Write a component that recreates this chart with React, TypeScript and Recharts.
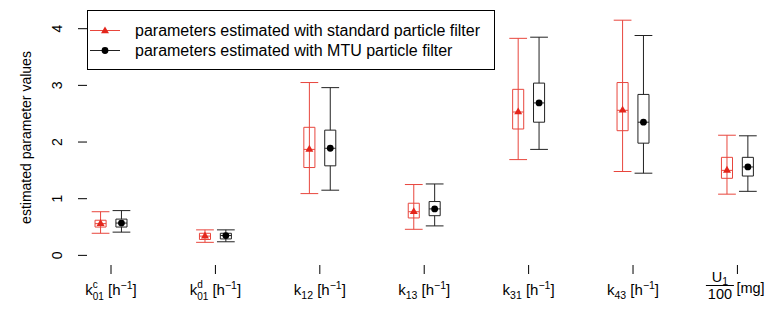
import React from 'react';
import {
  ComposedChart,
  Scatter,
  XAxis,
  YAxis,
  ReferenceArea,
  ReferenceLine,
  Legend,
} from 'recharts';

// ---- data ----
const categories = ['k01c', 'k01d', 'k12', 'k13', 'k31', 'k43', 'U1/100'];
const categoryPositions = [0, 1, 2, 3, 4, 5, 6];
const yTicks = [0, 1, 2, 3, 4];

// standard particle filter (red)
const stdLow = [0.39, 0.23, 1.09, 0.46, 1.69, 1.48, 1.08];
const stdQ1 = [0.5, 0.28, 1.55, 0.66, 2.23, 2.2, 1.36];
const stdMedian = [0.56, 0.34, 1.87, 0.77, 2.53, 2.56, 1.5];
const stdQ3 = [0.62, 0.39, 2.26, 0.92, 2.93, 3.05, 1.73];
const stdHigh = [0.77, 0.45, 3.05, 1.25, 3.83, 4.15, 2.12];

// MTU particle filter (black)
const mtuLow = [0.41, 0.24, 1.15, 0.52, 1.87, 1.45, 1.13];
const mtuQ1 = [0.5, 0.29, 1.58, 0.7, 2.35, 1.98, 1.4];
const mtuMedian = [0.57, 0.35, 1.89, 0.82, 2.69, 2.35, 1.56];
const mtuQ3 = [0.64, 0.39, 2.21, 0.95, 3.04, 2.84, 1.73];
const mtuHigh = [0.79, 0.45, 2.96, 1.26, 3.85, 3.88, 2.11];

const legendLabels = [
  'parameters estimated with standard particle filter',
  'parameters estimated with MTU particle filter',
];

// ---- styling ----
const RED = '#E3261C';
const RED_LINE = '#E8463D';
const BLACK = '#000000';
const BLACK_LINE = '#222222';
const FONT = 'Arial, "Liberation Sans", Helvetica, sans-serif';
const X_DOMAIN: [number, number] = [-0.23, 6.245];
const Y_DOMAIN: [number, number] = [-0.17, 4.33];
const OFFSET = 0.1;
const BOX_HALF = 0.053;
const CAP_HALF = 0.085;

const stdPoints = categories.map((_, i) => ({ x: categoryPositions[i] - OFFSET, y: stdMedian[i] }));
const mtuPoints = categories.map((_, i) => ({ x: categoryPositions[i] + OFFSET, y: mtuMedian[i] }));

const Triangle = (props: any) => {
  const { cx, cy } = props;
  const r = 4.6;
  const pts = [
    [cx, cy - r],
    [cx - r * 0.866, cy + r / 2],
    [cx + r * 0.866, cy + r / 2],
  ]
    .map((p) => p.join(','))
    .join(' ');
  return <polygon points={pts} fill={RED} stroke="none" />;
};

const Dot = (props: any) => {
  const { cx, cy } = props;
  return <circle cx={cx} cy={cy} r={3.4} fill={BLACK} />;
};

const YTick = (props: any) => {
  const { x, y, payload } = props;
  const tx = x - 19;
  return (
    <text
      x={tx}
      y={y}
      transform={`rotate(-90, ${tx}, ${y})`}
      textAnchor="middle"
      dominantBaseline="central"
      fontSize={14}
      fontFamily={FONT}
      fill="#000"
    >
      {payload.value}
    </text>
  );
};

const kSpecs = [
  { sub: '01', sup: 'c' },
  { sub: '01', sup: 'd' },
  { sub: '12', sup: '' },
  { sub: '13', sup: '' },
  { sub: '31', sup: '' },
  { sub: '43', sup: '' },
];

const XTick = (props: any) => {
  const { x, y, payload } = props;
  const idx = Math.round(payload.value);
  const base = y + 19;
  if (idx < 6) {
    const spec = kSpecs[idx];
    const supW = spec.sup === 'c' ? 5 : 5.6;
    return (
      <text
        x={x}
        y={base}
        textAnchor="middle"
        fontSize={15}
        fontFamily={FONT}
        fill="#000"
        style={{ whiteSpace: 'pre' }}
      >
        <tspan>k</tspan>
        {spec.sup ? (
          <>
            <tspan fontSize={10} dy={-7}>{spec.sup}</tspan>
            <tspan fontSize={10} dx={-supW} dy={11.5}>{spec.sub}</tspan>
            <tspan fontSize={15} dy={-4.5}>{' [h'}</tspan>
          </>
        ) : (
          <>
            <tspan fontSize={10.5} dy={4}>{spec.sub}</tspan>
            <tspan fontSize={15} dy={-4}>{' [h'}</tspan>
          </>
        )}
        <tspan fontSize={10.5} dy={-6}>{'\u22121'}</tspan>
        <tspan fontSize={15} dy={6}>]</tspan>
      </text>
    );
  }
  const fx = x - 17.5;
  return (
    <g fontFamily={FONT} fill="#000">
      <text x={fx} y={y + 6} textAnchor="middle" fontSize={14.5}>
        U<tspan fontSize={10.5} dy={3}>1</tspan>
      </text>
      <line x1={fx - 14} x2={fx + 14} y1={y + 9.5} y2={y + 9.5} stroke="#000" strokeWidth={1} />
      <text x={fx} y={y + 23} textAnchor="middle" fontSize={14.5}>
        100
      </text>
      <text x={x - 1} y={y + 17} textAnchor="start" fontSize={14.5}>
        [mg]
      </text>
    </g>
  );
};

const LegendBox = () => (
  <svg width={409} height={61} style={{ display: 'block' }}>
    <rect x={0.5} y={0.5} width={407} height={59} fill="#fff" stroke="#000" strokeWidth={1} />
    <line x1={3} x2={33} y1={20.5} y2={20.5} stroke={RED_LINE} strokeWidth={1} />
    <Triangle cx={18} cy={21} />
    <text x={48} y={26} fontSize={16} fontFamily={FONT} fill="#000">
      {legendLabels[0]}
    </text>
    <line x1={3} x2={33} y1={40.5} y2={40.5} stroke={BLACK_LINE} strokeWidth={1} />
    <Dot cx={18} cy={40.5} />
    <text x={48} y={45.5} fontSize={16} fontFamily={FONT} fill="#000">
      {legendLabels[1]}
    </text>
  </svg>
);

const boxElements = (
  xs: number[],
  low: number[],
  q1: number[],
  med: number[],
  q3: number[],
  high: number[],
  color: string,
  through: boolean,
  keyPrefix: string
) => {
  const els: React.ReactNode[] = [];
  xs.forEach((cx, i) => {
    const k = `${keyPrefix}${i}`;
    if (through) {
      els.push(
        <ReferenceLine key={`${k}w`} segment={[{ x: cx, y: low[i] }, { x: cx, y: high[i] }]} stroke={color} strokeWidth={1} />
      );
    } else {
      els.push(
        <ReferenceLine key={`${k}wl`} segment={[{ x: cx, y: low[i] }, { x: cx, y: q1[i] }]} stroke={color} strokeWidth={1} />
      );
      els.push(
        <ReferenceLine key={`${k}wh`} segment={[{ x: cx, y: q3[i] }, { x: cx, y: high[i] }]} stroke={color} strokeWidth={1} />
      );
    }
    els.push(
      <ReferenceLine key={`${k}cl`} segment={[{ x: cx - CAP_HALF, y: low[i] }, { x: cx + CAP_HALF, y: low[i] }]} stroke={color} strokeWidth={1} />
    );
    els.push(
      <ReferenceLine key={`${k}ch`} segment={[{ x: cx - CAP_HALF, y: high[i] }, { x: cx + CAP_HALF, y: high[i] }]} stroke={color} strokeWidth={1} />
    );
    els.push(
      <ReferenceArea
        key={`${k}b`}
        x1={cx - BOX_HALF}
        x2={cx + BOX_HALF}
        y1={q1[i]}
        y2={q3[i]}
        fill="none"
        fillOpacity={0}
        stroke={color}
        strokeWidth={1}
      />
    );
    els.push(
      <ReferenceLine key={`${k}m`} segment={[{ x: cx - BOX_HALF, y: med[i] }, { x: cx + BOX_HALF, y: med[i] }]} stroke={color} strokeWidth={1} />
    );
  });
  return els;
};

export default function App() {
  const stdX = stdPoints.map((p) => p.x);
  const mtuX = mtuPoints.map((p) => p.x);
  return (
    <div style={{ position: 'absolute', left: 0, top: 0, width: 771, height: 311, background: '#fff' }}>
      <ComposedChart width={771} height={311} margin={{ top: 10, right: 8, bottom: 0, left: 0 }}>
        <XAxis
          type="number"
          dataKey="x"
          domain={X_DOMAIN}
          allowDataOverflow
          ticks={categoryPositions}
          interval={0}
          height={46}
          tickSize={9}
          axisLine={false}
          tickLine={{ stroke: '#000' }}
          tick={<XTick />}
        />
        <YAxis
          type="number"
          dataKey="y"
          domain={Y_DOMAIN}
          allowDataOverflow
          ticks={yTicks}
          interval={0}
          width={87}
          tickSize={9}
          axisLine={false}
          tickLine={{ stroke: '#000' }}
          tick={<YTick />}
          label={{
            value: 'estimated parameter values',
            angle: -90,
            position: 'center',
            dx: -17,
            style: { fontSize: 14, fontFamily: FONT, fill: '#000' },
          }}
        />
        <ReferenceArea fill="none" fillOpacity={0} stroke="#000" strokeWidth={1} />
        {boxElements(stdX, stdLow, stdQ1, stdMedian, stdQ3, stdHigh, RED_LINE, true, 's')}
        {boxElements(mtuX, mtuLow, mtuQ1, mtuMedian, mtuQ3, mtuHigh, BLACK_LINE, false, 'm')}
        <Scatter data={stdPoints} dataKey="y" shape={<Triangle />} isAnimationActive={false} />
        <Scatter data={mtuPoints} dataKey="y" shape={<Dot />} isAnimationActive={false} />
        <Legend
          layout="horizontal"
          verticalAlign="middle"
          align="center"
          content={() => <LegendBox />}
          wrapperStyle={{ position: 'absolute', left: 87, top: 10, width: 409, height: 61 }}
        />
      </ComposedChart>
    </div>
  );
}
